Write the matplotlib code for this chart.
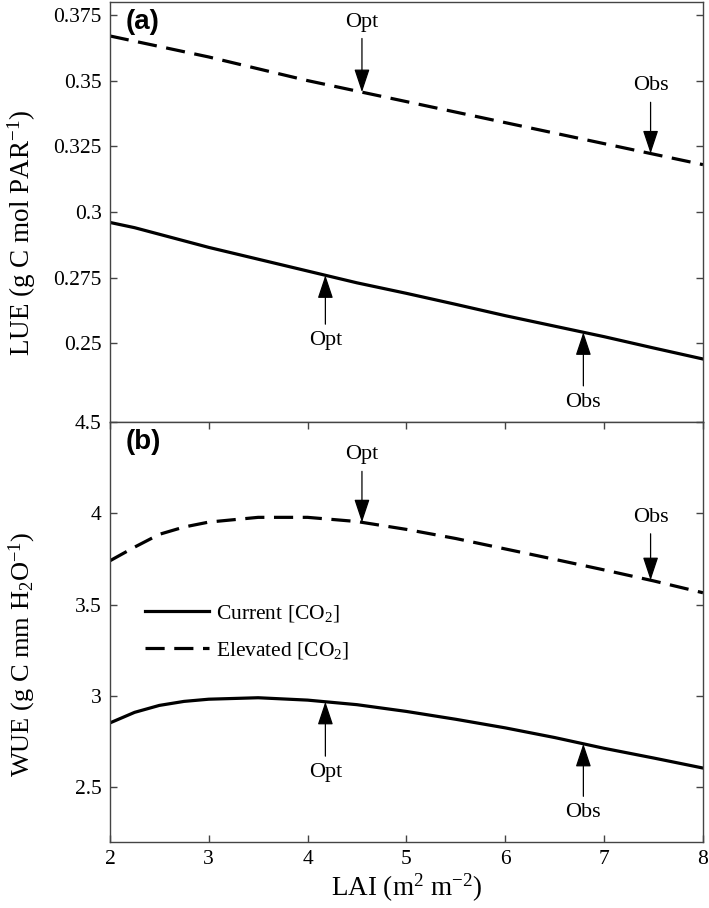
import numpy as np
import matplotlib.pyplot as plt

plt.rcParams['font.family'] = 'Liberation Serif'
plt.rcParams['mathtext.fontset'] = 'custom'
plt.rcParams['mathtext.rm'] = 'Liberation Serif'
plt.rcParams['mathtext.it'] = 'Liberation Serif:italic'

# LAI values
lai = [2, 2.25, 2.5, 2.75, 3, 3.5, 4, 4.5, 5, 5.5, 6, 6.5, 7, 7.5, 8]

# (a) light use efficiency
lue_current = [0.296, 0.294, 0.2915, 0.289, 0.2865, 0.282, 0.2775, 0.273, 0.269, 0.2648,
               0.2605, 0.2565, 0.2525, 0.2482, 0.244]
lue_elevated = [0.367, 0.365, 0.363, 0.361, 0.359, 0.3545, 0.350, 0.346, 0.342, 0.338,
                0.334, 0.330, 0.326, 0.322, 0.318]

# (b) water use efficiency
wue_current = [2.852, 2.91, 2.948, 2.97, 2.982, 2.99, 2.977, 2.952, 2.915, 2.872,
               2.825, 2.772, 2.713, 2.66, 2.605]
wue_elevated = [3.74, 3.815, 3.885, 3.925, 3.952, 3.978, 3.978, 3.955, 3.912, 3.862,
                3.805, 3.748, 3.69, 3.63, 3.565]

# optimal / observed LAI
opt_current, obs_current = 4.18, 6.79
opt_elevated, obs_elevated = 4.55, 7.47

fig = plt.figure(figsize=(7.09, 9.08), dpi=100)
ax1 = fig.add_axes([0.155, 0.5352, 0.8365, 0.4628])
ax2 = fig.add_axes([0.155, 0.0727, 0.8365, 0.4625])

lw = 2.3
for ax, cur, ele in [(ax1, lue_current, lue_elevated), (ax2, wue_current, wue_elevated)]:
    ax.plot(lai, cur, color='k', lw=lw, label='Current [CO$_2$]')
    ax.plot(lai, ele, color='k', lw=lw, dashes=(6, 3), label='Elevated [CO$_2$]')
    ax.set_xlim(2, 8)
    for s in ax.spines.values():
        s.set_color('#444444')
        s.set_linewidth(1.0)
    ax.tick_params(direction='in', length=5, width=1, color='#444444',
                   labelsize=15.5, right=True, pad=6)

arrow = dict(arrowstyle='-|>,head_length=0.9,head_width=0.3', color='k', lw=0.9,
             shrinkA=3, shrinkB=0)


def mark(ax, label, x, xs, ys, ytext):
    y = np.interp(x, xs, ys)
    ax.annotate(label, xy=(x, y), xytext=(x, ytext), ha='center', va='center',
                fontsize=16, arrowprops=arrow)


# panel (a)
ax1.set_ylim(0.22, 0.38)
ax1.set_yticks([0.25, 0.275, 0.3, 0.325, 0.35, 0.375])
ax1.set_yticklabels(['0.25', '0.275', '0.3', '0.325', '0.35', '0.375'])
ax1.tick_params(bottom=False, labelbottom=False)
ax1.set_ylabel('LUE (g C mol PAR$^{-1}$)', fontsize=19.5)
ax1.yaxis.set_label_coords(-0.122, 0.451)
ax1.text(0.027, 0.983, '(a)', transform=ax1.transAxes, fontsize=20,
         fontweight='bold', family='Liberation Sans', va='top', ha='left')
mark(ax1, 'Opt', opt_elevated, lai, lue_elevated, 0.3723)
mark(ax1, 'Obs', obs_elevated, lai, lue_elevated, 0.348)
mark(ax1, 'Opt', opt_current, lai, lue_current, 0.251)
mark(ax1, 'Obs', obs_current, lai, lue_current, 0.2275)

# panel (b)
ax2.set_ylim(2.2, 4.5)
ax2.set_yticks([2.5, 3, 3.5, 4, 4.5])
ax2.set_yticklabels(['2.5', '3', '3.5', '4', '4.5'])
ax2.set_xticks([2, 3, 4, 5, 6, 7, 8])
ax2.tick_params(top=True)
ax2.set_ylabel('WUE (g C mm H$_2$O$^{-1}$)', fontsize=19)
ax2.yaxis.set_label_coords(-0.122, 0.446)
ax2.set_xlabel('LAI (m$^2$ m$^{-2}$)', fontsize=19.5, labelpad=2)
ax2.text(0.027, 0.983, '(b)', transform=ax2.transAxes, fontsize=20,
         fontweight='bold', family='Liberation Sans', va='top', ha='left')
mark(ax2, 'Opt', opt_elevated, lai, wue_elevated, 4.32)
mark(ax2, 'Obs', obs_elevated, lai, wue_elevated, 3.978)
mark(ax2, 'Opt', opt_current, lai, wue_current, 2.58)
mark(ax2, 'Obs', obs_current, lai, wue_current, 2.36)

leg = ax2.legend(loc='center left', bbox_to_anchor=(0.059, 0.5), frameon=False,
                 fontsize=15.5, handlelength=3.0, handletextpad=0.3, labelspacing=0.7,
                 borderpad=0, borderaxespad=0)

fig.savefig('out.png', dpi=100)
